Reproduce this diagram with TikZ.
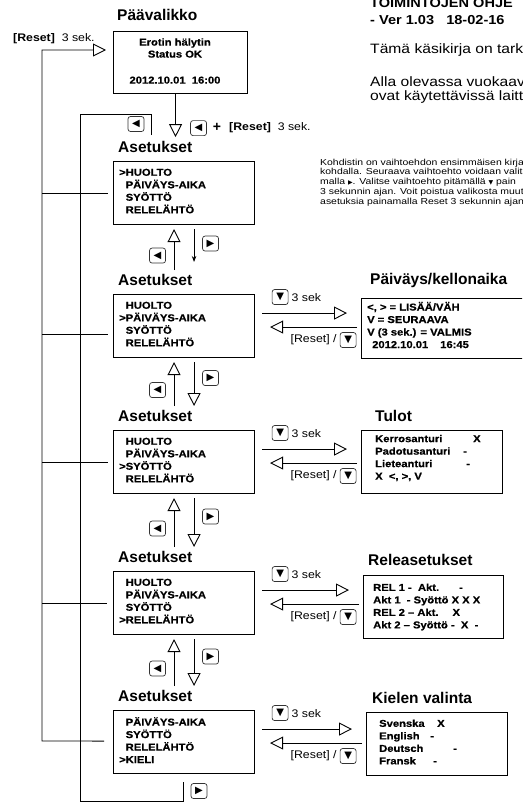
\documentclass[tikz,border=0pt]{standalone}
\usepackage{fontspec}
\setmainfont{Liberation Sans}
\newfontfamily\wideA[FakeStretch=1.12,BoldFeatures={FakeBold=0.6}]{Liberation Sans}
\newfontfamily\wideL[FakeStretch=1.12]{Liberation Sans}
\newfontfamily\wideB[FakeStretch=1.2]{Liberation Sans}
\newfontfamily\wideC[FakeStretch=1.15]{Liberation Sans}
\newfontfamily\symf{DejaVu Sans}
\usetikzlibrary{arrows.meta,calc}
\begin{document}
\begin{tikzpicture}[x=1pt,y=-1pt,
 abox/.style={draw,line width=1.1pt,minimum width=141pt,minimum height=63pt,anchor=north west,inner sep=0pt},
 btxt/.style={anchor=west,align=left,inner sep=0pt,font=\wideA\fontsize{10}{12.5}\selectfont\bfseries},
 ttl/.style={anchor=west,inner sep=0pt,font=\fontsize{15.5}{18}\selectfont\bfseries},
 lbl/.style={inner sep=0pt,font=\wideL\fontsize{11}{13}\selectfont},
 btn/.style={draw=black!80,rounded corners=2.5pt,line width=0.7pt,minimum width=16pt,minimum height=15pt,inner sep=0pt,font=\symf\fontsize{10}{10}\selectfont},
 ln/.style={line width=0.9pt},
 hol/.style={ln,-{Triangle[open,length=13pt,width=13pt,line width=0.9pt]}},
 thinar/.style={ln,-{Stealth[length=6pt,width=4.5pt]}},
]
\clip (0,0) rectangle (522,803);

% ---------- top right text ----------
\node[anchor=west,inner sep=0pt,font=\wideL\fontsize{13}{15}\selectfont\bfseries] (h1) at (370,3.5) {TOIMINTOJEN OHJE};
\node[anchor=west,inner sep=0pt,font=\wideL\fontsize{13}{15}\selectfont\bfseries] (h2) at (370,20) {- Ver 1.03\ \ \ 18-02-16};
\node[anchor=west,inner sep=0pt,font=\wideC\fontsize{13.6}{15}\selectfont] (h3) at (370,50) {Tämä käsikirja on tarko};
\node[anchor=west,inner sep=0pt,font=\wideC\fontsize{13.6}{15}\selectfont] (h4) at (370,82) {Alla olevassa vuokaav};
\node[anchor=west,inner sep=0pt,font=\wideC\fontsize{13.6}{15}\selectfont] (h5) at (370,97) {ovat käytettävissä laitt};
\node[anchor=west,align=left,inner sep=0pt,font=\wideB\fontsize{8.7}{9.8}\selectfont] (par) at (320,182.5)
 {Kohdistin on vaihtoehdon ensimmäisen kirja\\
  kohdalla. Seuraava vaihtoehto voidaan valita\\
  malla {\symf\fontsize{6}{6}\selectfont ▶}. Valitse vaihtoehto pitämällä {\symf\fontsize{6}{6}\selectfont ▼} pain\\
  3 sekunnin ajan. Voit poistua valikosta muutt\\
  asetuksia painamalla Reset 3 sekunnin ajan};

% ---------- main menu ----------
\node[ttl] (tpv) at (117,15) {Päävalikko};
\node[draw,line width=1.1pt,minimum width=134pt,minimum height=62pt,anchor=north west,inner sep=0pt] (m) at (113,31) {};
\node[align=center,inner sep=0pt,font=\wideA\fontsize{10}{12}\selectfont\bfseries] (mt) at (175,61) {Erotin hälytin\\Status OK\\[14pt]2012.10.01\ \ 16:00};
\node[lbl,anchor=west] (rs1) at (13,39) {\textbf{[Reset]}\ \ 3 sek.};

% ---------- settings boxes ----------
\node[abox] (a1) at (113,161) {};
\node[abox] (a2) at (113,294) {};
\node[abox] (a3) at (113,430) {};
\node[abox] (a4) at (113,571) {};
\node[abox] (a5) at (113,710) {};
\foreach \k/\t in {1/147,2/280,3/416,4/557,5/696}{
  \node[ttl] (ta\k) at (118,\t) {Asetukset};
}
\node[btxt] (a1t) at ($(a1.west)+(6,-2)$) {>HUOLTO\\\hphantom{>}PÄIVÄYS-AIKA\\\hphantom{>}SYÖTTÖ\\\hphantom{>}RELELÄHTÖ};
\node[btxt] (a2t) at ($(a2.west)+(6,-2)$) {\hphantom{>}HUOLTO\\>PÄIVÄYS-AIKA\\\hphantom{>}SYÖTTÖ\\\hphantom{>}RELELÄHTÖ};
\node[btxt] (a3t) at ($(a3.west)+(6,-2)$) {\hphantom{>}HUOLTO\\\hphantom{>}PÄIVÄYS-AIKA\\>SYÖTTÖ\\\hphantom{>}RELELÄHTÖ};
\node[btxt] (a4t) at ($(a4.west)+(6,-2)$) {\hphantom{>}HUOLTO\\\hphantom{>}PÄIVÄYS-AIKA\\\hphantom{>}SYÖTTÖ\\>RELELÄHTÖ};
\node[btxt] (a5t) at ($(a5.west)+(6,-2)$) {\hphantom{>}PÄIVÄYS-AIKA\\\hphantom{>}SYÖTTÖ\\\hphantom{>}RELELÄHTÖ\\>KIELI};

% ---------- right boxes ----------
\node[abox,minimum width=175pt,minimum height=60pt] (r2) at (361,298) {};
\node[abox] (r3) at (361,430) {};
\node[abox,minimum width=140pt] (r4) at (363,575) {};
\node[abox] (r5) at (366,712) {};
\node[ttl] (tr2) at (370,280) {Päiväys/kellonaika};
\node[ttl] (tr3) at (375,416) {Tulot};
\node[ttl] (tr4) at (368,560) {Releasetukset};
\node[ttl] (tr5) at (372,698) {Kielen valinta};
\node[btxt] (r2t) at ($(r2.west)+(6,-3.5)$) {<, > = LISÄÄ/VÄH\\V = SEURAAVA\\V (3 sek.) = VALMIS\\\hspace{5pt}2012.10.01\hspace{12pt}16:45};
\node[btxt] (r3t) at ($(r3.west)+(14,-4)$) {\makebox[98pt][l]{Kerrosanturi}X\\\makebox[88pt][l]{Padotusanturi}-\\\makebox[91pt][l]{Lieteanturi}-\\X\ \ <, >, V};
\node[btxt] (r4t) at ($(r4.west)+(10,0)$) {REL 1 -\ \ Akt.\hspace{20pt}-\\Akt 1\ \ - Syöttö X X X\\REL 2 – Akt.\hspace{14pt}X\\Akt 2 – Syöttö -\ \ X\ \ -};
\node[btxt] (r5t) at ($(r5.west)+(13,-2)$) {\makebox[58pt][l]{Svenska}X\\\makebox[51pt][l]{English}-\\\makebox[74pt][l]{Deutsch}-\\\makebox[54pt][l]{Fransk}-};

% ---------- horizontal arrows between settings and detail boxes ----------
\foreach \k in {2,3,4,5}{
  \draw[hol] ($(a\k.east)+(7,-13)$) -- ($(a\k.east -| r\k.west)+(-14,-13)$);
  \draw[hol] ($(a\k.east -| r\k.west)+(-4,1)$) -- ($(a\k.east)+(15,1)$);
  \node[btn] (bd\k) at ($(a\k.east)+(25,-29)$) {▼};
  \node[lbl,anchor=west] (s\k) at ($(bd\k.east)+(3,1)$) {3 sek};
  \node[btn] (br\k) at ($(a\k.east)+(93,14)$) {▼};
  \node[lbl,anchor=east] (rr\k) at ($(br\k.west)+(-3,0)$) {[Reset] /};
}

% ---------- vertical arrows between settings boxes ----------
\draw[hol] ($(a2.north)+(-10,-24)$) -- ($(a1.south)+(-10,4)$);
\draw[thinar] ($(a1.south)+(10,4)$) -- ($(a2.north)+(10,-32)$);
\draw[hol] ($(a3.north)+(-10,-24)$) -- ($(a2.south)+(-10,4)$);
\draw[hol] ($(a2.south)+(10,4)$) -- ($(a3.north)+(10,-24)$);
\draw[hol] ($(a4.north)+(-10,-24)$) -- ($(a3.south)+(-10,4)$);
\draw[hol] ($(a3.south)+(10,4)$) -- ($(a4.north)+(10,-24)$);
\draw[hol] ($(a5.north)+(-10,-24)$) -- ($(a4.south)+(-10,4)$);
\draw[hol] ($(a4.south)+(10,4)$) -- ($(a5.north)+(10,-24)$);
\foreach \u/\l in {1/2,2/3,3/4,4/5}{
  \node[btn] (bl\u) at ($($(a\u.south)!0.5!(a\l.north)$)+(-26.5,-4)$) {◀};
  \node[btn] (bn\u) at ($($(a\u.south)!0.5!(a\l.north)$)+(26.5,-16)$) {▶};
}

% ---------- main menu to settings ----------
\draw[hol] ($(m.south)+(-5,0)$) -- ($(m.south)+(-5,43)$);
\node[btn] (bm) at ($(m.south)+(18,34)$) {◀};
\node[inner sep=0pt,font=\fontsize{14}{14}\selectfont\bfseries] (plus) at (217,127) {+};
\node[lbl,anchor=west] (rs2) at (229,127.5) {\textbf{[Reset]}\ \ 3 sek.};

% ---------- outer loop (Reset back to main menu) ----------
\coordinate (ob) at (42,741);
\coordinate (ot) at (42,50);
\draw[hol] ($(a5.west)+(-9,-1)$) -- (ob) -- (ot) -- ($(m.west |- ot)+(-7,0)$);
\draw[ln] (ot |- a1.west) -- ($(a1.west)+(-5,0)$);
\draw[ln] ($(ot |- a2.west)+(0,8)$) -- ($(a2.west)+(-5,8)$);
\draw[ln] (ot |- a3.west) -- ($(a3.west)+(-5,0)$);
\draw[ln] (ot |- a4.west) -- ($(a4.west)+(-6,0)$);

% ---------- inner loop ----------
\coordinate (is) at (151,135);
\coordinate (ie) at (183,782);
\draw[ln] (is) -- (151,114) -- (80,114) -- (80,801) -- (183,801) -- (ie);
\node[btn] (bi1) at (136,124) {◀};
\node[btn] (bi2) at (199,791) {▶};
\end{tikzpicture}
\end{document}
